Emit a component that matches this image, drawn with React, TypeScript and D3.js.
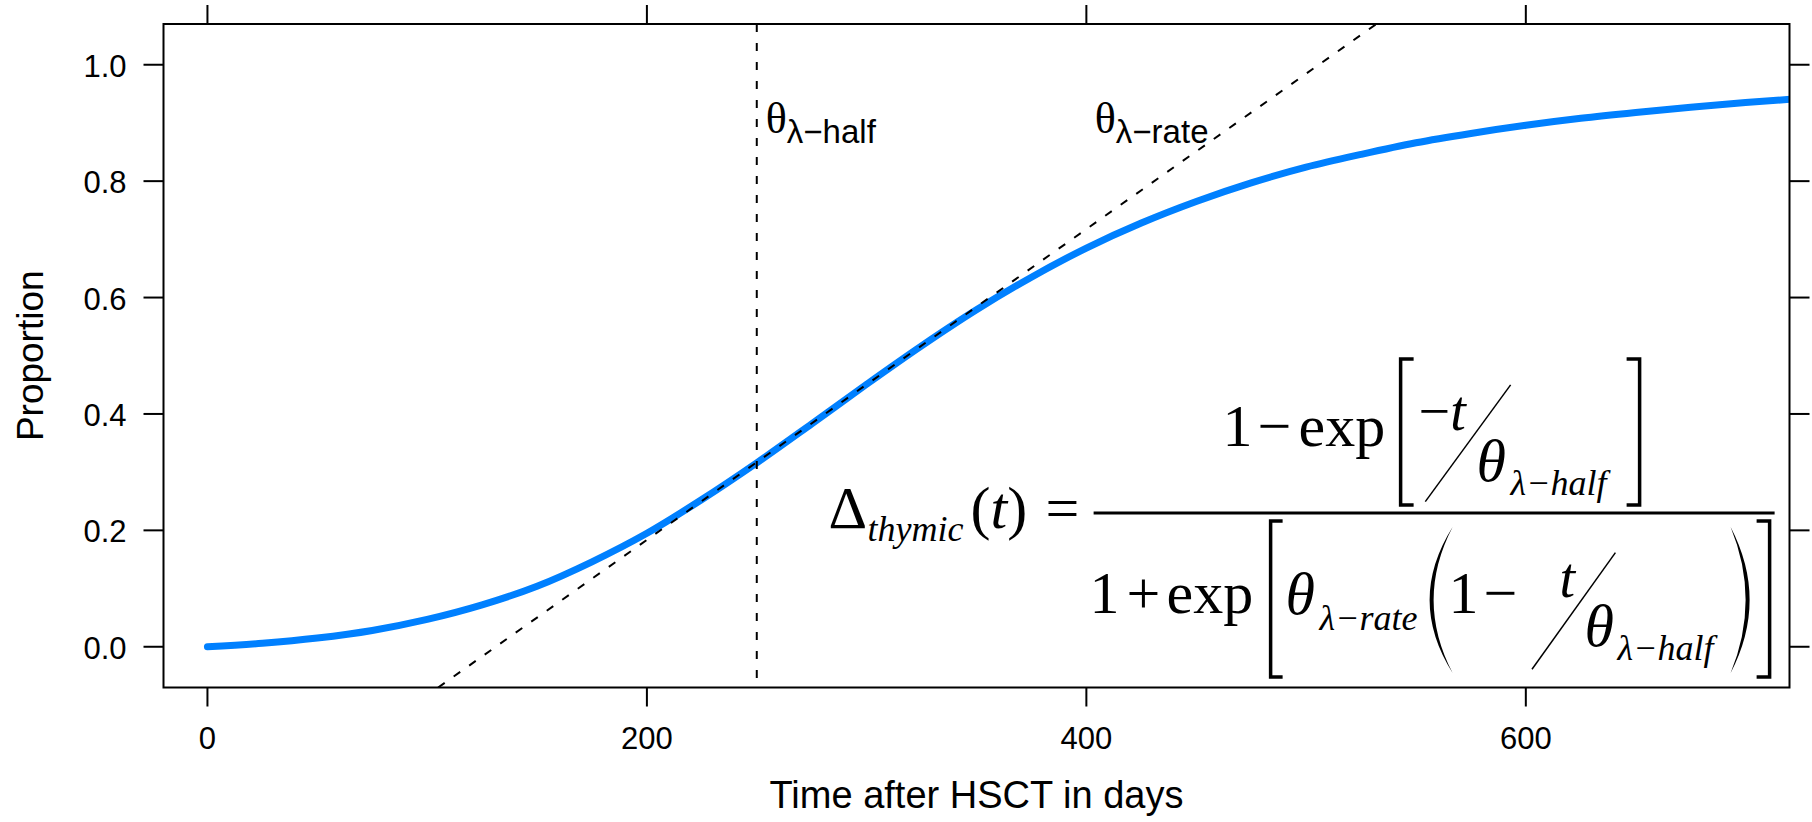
import React from "react";
import * as d3 from "d3";

// ---- data ----
const T_DAYS = [0, 25, 50, 75, 100, 125, 150, 175, 200, 225, 250, 275, 300, 325, 350, 375, 400, 425, 450, 475, 500, 525, 550, 575, 600, 625, 650, 675, 700, 725, 750];
const PROPORTION = [0, 0.006, 0.015, 0.028, 0.047, 0.072, 0.104, 0.146, 0.195, 0.253, 0.316, 0.383, 0.451, 0.517, 0.579, 0.635, 0.685, 0.728, 0.765, 0.797, 0.824, 0.846, 0.866, 0.882, 0.896, 0.908, 0.918, 0.927, 0.935, 0.942, 0.948];
const TANGENT_T = [105, 532];
const TANGENT_V = [-0.07, 1.07];
const HALF_T = 250;
const X_TICKS = [0, 200, 400, 600];
const Y_TICKS = [0, 0.2, 0.4, 0.6, 0.8, 1.0];
const X_DOMAIN = [-20, 720];
const Y_DOMAIN = [-0.07, 1.07];
const X_LABEL = "Time after HSCT in days";
const Y_LABEL = "Proportion";
const FORMULA_ANCHOR = { t: 403.3, v: 0.23 };

const SANS = "'Liberation Sans', Arial, Helvetica, sans-serif";
const SERIF = "'Liberation Serif', 'Times New Roman', Times, serif";
const BLUE = "#0080ff";

const W = 1812, H = 822;
const L = 163.5, R = 1789.5, T = 24, B = 687.5;

export default function App() {
  const x = d3.scaleLinear().domain(X_DOMAIN).range([L, R]);
  const y = d3.scaleLinear().domain(Y_DOMAIN).range([B, T]);
  const pts = T_DAYS.map((t, i) => [t, PROPORTION[i]] as [number, number]);
  const line = d3.line<[number, number]>().x(d => x(d[0])).y(d => y(d[1])).curve(d3.curveCatmullRom);
  const tan = TANGENT_T.map((t, i) => [t, TANGENT_V[i]] as [number, number]);
  const tanLine = d3.line<[number, number]>().x(d => x(d[0])).y(d => y(d[1]));

  const ax = x(FORMULA_ANCHOR.t), ay = y(FORMULA_ANCHOR.v);
  // formula offsets relative to left end of fraction bar
  const F = 60, S = 36;
  const bracket = (x1: number, x2: number, y1: number, y2: number, left: boolean) => {
    const xv = left ? x1 : x2, xa = left ? x2 : x1;
    return `M${ax + xa},${ay + y1} L${ax + xv},${ay + y1} L${ax + xv},${ay + y2} L${ax + xa},${ay + y2}`;
  };
  const paren = (xl: number, xr: number, y1: number, y2: number, left: boolean, th = 4) => {
    const mid = (y1 + y2) / 2;
    if (left) {
      const c1 = 2 * xl - xr, c2 = 2 * (xl + th) - xr;
      return `M${ax + xr},${ay + y1} Q${ax + c1},${ay + mid} ${ax + xr},${ay + y2} Q${ax + c2},${ay + mid} ${ax + xr},${ay + y1} Z`;
    } else {
      const c1 = 2 * xr - xl, c2 = 2 * (xr - th) - xl;
      return `M${ax + xl},${ay + y1} Q${ax + c1},${ay + mid} ${ax + xl},${ay + y2} Q${ax + c2},${ay + mid} ${ax + xl},${ay + y1} Z`;
    }
  };
  const tx = (dx: number) => ax + dx;
  const ty = (dy: number) => ay + dy;
  // absolute-pixel measurements converted to offsets (bar start = 1094, 513)
  const o = (px: number) => px - 1094;
  const p = (py: number) => py - 513;

  return (
    <svg width={W} height={H} style={{ position: "absolute", left: 0, top: 0, background: "#fff" }}>
      <defs>
        <clipPath id="plotclip">
          <rect x={L} y={T} width={R - L} height={B - T} />
        </clipPath>
      </defs>
      <rect x={0} y={0} width={W} height={H} fill="#fff" />

      {/* curve */}
      <g clipPath="url(#plotclip)">
        <path d={line(pts) || ""} fill="none" stroke={BLUE} strokeWidth={7} strokeLinecap="round" />
        <line x1={x(HALF_T)} x2={x(HALF_T)} y1={T} y2={B} stroke="#000" strokeWidth={2} strokeDasharray="8,11" />
        <path d={tanLine(tan) || ""} fill="none" stroke="#000" strokeWidth={2} strokeDasharray="8,11" />
      </g>

      {/* frame */}
      <rect x={L} y={T} width={R - L} height={B - T} fill="none" stroke="#000" strokeWidth={2} />

      {/* x ticks bottom & top */}
      {X_TICKS.map(v => (
        <g key={"x" + v}>
          <line x1={x(v)} x2={x(v)} y1={B} y2={B + 19} stroke="#000" strokeWidth={2} />
          <line x1={x(v)} x2={x(v)} y1={T} y2={T - 19} stroke="#000" strokeWidth={2} />
          <text x={x(v)} y={B + 61} textAnchor="middle" fontFamily={SANS} fontSize={31}>{String(v)}</text>
        </g>
      ))}
      {/* y ticks left & right */}
      {Y_TICKS.map(v => (
        <g key={"y" + v}>
          <line x1={L} x2={L - 20} y1={y(v)} y2={y(v)} stroke="#000" strokeWidth={2} />
          <line x1={R} x2={R + 20} y1={y(v)} y2={y(v)} stroke="#000" strokeWidth={2} />
          <text x={L - 37} y={y(v) + 12} textAnchor="end" fontFamily={SANS} fontSize={31}>{v.toFixed(1)}</text>
        </g>
      ))}

      {/* axis titles */}
      <text x={(L + R) / 2} y={808} textAnchor="middle" fontFamily={SANS} fontSize={38}>{X_LABEL}</text>
      <text transform={`translate(43,${(T + B) / 2}) rotate(-90)`} textAnchor="middle" fontFamily={SANS} fontSize={37}>{Y_LABEL}</text>

      {/* theta labels */}
      <text x={x(HALF_T) + 9} y={133} fontFamily={SERIF} fontSize={44}>θ
        <tspan fontFamily={SANS} fontSize={33} dy={10}>λ−half</tspan>
      </text>
      <text x={x(HALF_T) + 338} y={133} fontFamily={SERIF} fontSize={44}>θ
        <tspan fontFamily={SANS} fontSize={33} dy={10}>λ−rate</tspan>
      </text>

      {/* formula */}
      <g fontFamily={SERIF} fill="#000">
        <text x={tx(o(829))} y={ty(p(528))} fontSize={F}>Δ</text>
        <text x={tx(o(868))} y={ty(p(541))} fontSize={S} fontStyle="italic">thymic</text>
        <text x={tx(o(971))} y={ty(p(528))} fontSize={F}>(<tspan fontStyle="italic">t</tspan>)</text>
        <text x={tx(o(1046))} y={ty(p(528))} fontSize={F}>=</text>
        <line x1={tx(0)} x2={tx(o(1775))} y1={ty(0)} y2={ty(0)} stroke="#000" strokeWidth={3} />

        {/* numerator */}
        <text x={tx(o(1223))} y={ty(p(446))} fontSize={F}>1</text>
        <text x={tx(o(1258))} y={ty(p(446))} fontSize={F}>−</text>
        <text x={tx(o(1299))} y={ty(p(446))} fontSize={F}>exp</text>
        <path d={bracket(o(1401), o(1414), p(359), p(505), true)} fill="none" stroke="#000" strokeWidth={3.5} />
        <text x={tx(o(1419))} y={ty(p(430))} fontSize={56}>−<tspan fontStyle="italic">t</tspan></text>
        <line x1={tx(o(1425.7))} y1={ty(p(501.7))} x2={tx(o(1511))} y2={ty(p(385))} stroke="#000" strokeWidth={1.5} />
        <text x={tx(o(1477))} y={ty(p(481))} fontSize={F} fontStyle="italic">θ</text>
        <text x={tx(o(1511))} y={ty(p(495))} fontSize={S} fontStyle="italic">λ−half</text>
        <path d={bracket(o(1627), o(1640), p(359), p(505), false)} fill="none" stroke="#000" strokeWidth={3.5} />

        {/* denominator */}
        <text x={tx(o(1090))} y={ty(p(613))} fontSize={F}>1</text>
        <text x={tx(o(1127))} y={ty(p(613))} fontSize={F}>+</text>
        <text x={tx(o(1167))} y={ty(p(613))} fontSize={F}>exp</text>
        <path d={bracket(o(1271), o(1283), p(521), p(677), true)} fill="none" stroke="#000" strokeWidth={3.5} />
        <text x={tx(o(1286))} y={ty(p(614))} fontSize={F} fontStyle="italic">θ</text>
        <text x={tx(o(1320))} y={ty(p(630))} fontSize={S} fontStyle="italic">λ−rate</text>
        <path d={paren(o(1430), o(1453), p(527), p(673), true)} fill="#000" />
        <text x={tx(o(1449))} y={ty(p(613))} fontSize={F}>1</text>
        <text x={tx(o(1484))} y={ty(p(613))} fontSize={F}>−</text>
        <text x={tx(o(1560))} y={ty(p(597))} fontSize={56} fontStyle="italic">t</text>
        <line x1={tx(o(1532.4))} y1={ty(p(669.3))} x2={tx(o(1615.8))} y2={ty(p(552.7))} stroke="#000" strokeWidth={1.5} />
        <text x={tx(o(1585))} y={ty(p(646))} fontSize={F} fontStyle="italic">θ</text>
        <text x={tx(o(1618))} y={ty(p(660))} fontSize={S} fontStyle="italic">λ−half</text>
        <path d={paren(o(1731), o(1750), p(527), p(673), false)} fill="#000" />
        <path d={bracket(o(1757), o(1770), p(521), p(677), false)} fill="none" stroke="#000" strokeWidth={3.5} />
      </g>
    </svg>
  );
}
